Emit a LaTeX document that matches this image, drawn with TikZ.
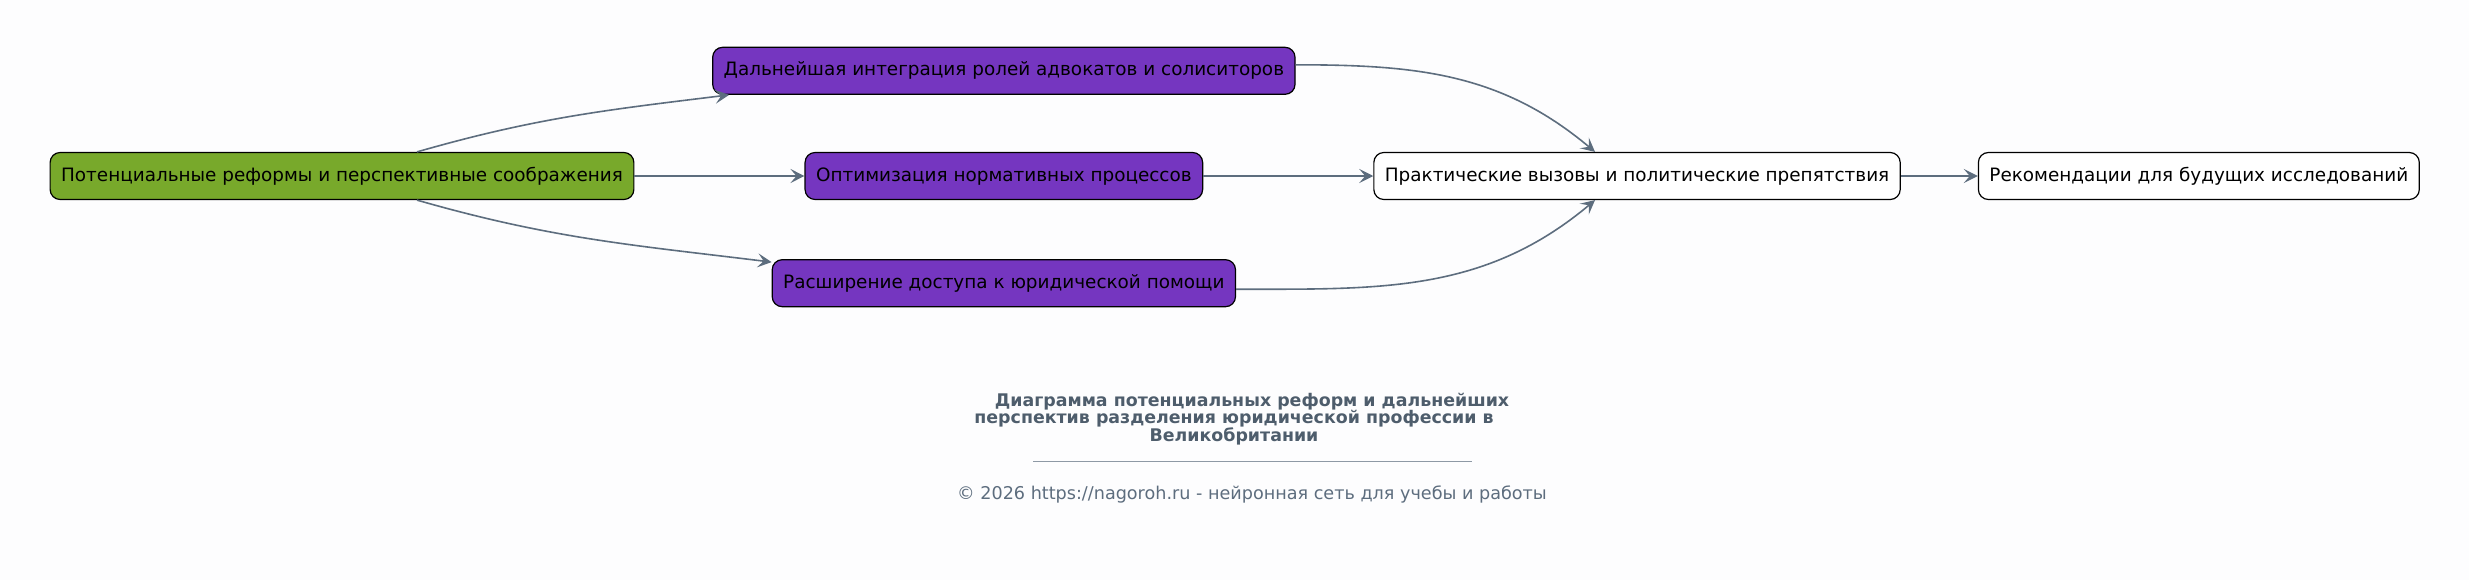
\documentclass[tikz,border=0pt]{standalone}
\usepackage{fontspec}
\setmainfont{DejaVu Sans}
\usepackage{xcolor}
\usetikzlibrary{
arrows.meta,
positioning
}
\definecolor{leafgreen}{HTML}{78A92B}
\definecolor{reformpurple}{HTML}{7536C0}
\definecolor{edgeslate}{HTML}{5D6D7E}
\definecolor{titleslate}{HTML}{4E5D6C}
\definecolor{paper}{HTML}{FDFDFE}
\newcommand\tightlines{\lineskiplimit=-5pt\relax}

\begin{document}
\begin{tikzpicture}[
    >={Stealth[length=7pt,width=7pt,inset=3pt]},
    box/.style={draw=black,
      line width=0.6pt,
      rounded corners=5pt,
      font=\fontsize{9.2}{11}\selectfont,
      minimum height=23.5pt,
      inner xsep=5.5pt,
      text height=7pt,
      text depth=2pt},
    root/.style={box, fill=leafgreen},
    reform/.style={box, fill=reformpurple},
    outcome/.style={box, fill=white},
    link/.style={->, draw=edgeslate, line width=0.8pt},
    caption/.style={font=\bfseries\fontsize{8.7}{8.7}\selectfont\tightlines,
      text=titleslate, align=center},
    credit/.style={font=\fontsize{8.8}{10}\selectfont, text=edgeslate}
  ]
  \fill[paper] (0,0) rectangle (1234.5pt,290pt);
  \useasboundingbox (0,0) rectangle (1234.5pt,290pt);

  \node[root] (pot) at (171pt,202pt) {Потенциальные реформы и перспективные соображения};
  \node[reform, right=85pt of pot] (opt) {Оптимизация нормативных процессов};
  \node[reform, above=28.5pt of opt] (integr) {Дальнейшая интеграция ролей адвокатов и солиситоров};
  \node[reform, below=29.5pt of opt] (aid) {Расширение доступа к юридической помощи};
  \node[outcome, right=85pt of opt] (obst) {Практические вызовы и политические препятствия};
  \node[outcome, right=38.5pt of obst] (recom) {Рекомендации для будущих исследований};

  \node[caption] (title) at (617pt,80.5pt) {%
    \hspace*{18pt}Диаграмма потенциальных реформ и дальнейших\\
    перспектив разделения юридической профессии в\\
    Великобритании};
  \coordinate (ruleL) at (516.5pt,59.5pt);
  \coordinate (ruleR) at (736pt,59.5pt);
  \draw[edgeslate!70, line width=0.5pt] (ruleL) -- (ruleR);
  \node[credit] (credit) at (626pt,43pt) {© 2026 https://nagoroh.ru - нейронная сеть для учебы и работы};

  \draw[link] ([xshift=37.5pt]pot.north) to[out=16,in=187] ([xshift=8.5pt]integr.south west);
  \draw[link] (pot) -- (opt);
  \draw[link] ([xshift=37.5pt]pot.south) to[out=-16,in=173] ([yshift=-1.5pt]aid.north west);
  \draw[link] ([yshift=3pt]integr.east) to[out=0,in=140] ([xshift=-21pt]obst.north);
  \draw[link] (opt) -- (obst);
  \draw[link] ([yshift=-3pt]aid.east) to[out=0,in=220] ([xshift=-21pt]obst.south);
  \draw[link] (obst) -- (recom);
\end{tikzpicture}
\end{document}
